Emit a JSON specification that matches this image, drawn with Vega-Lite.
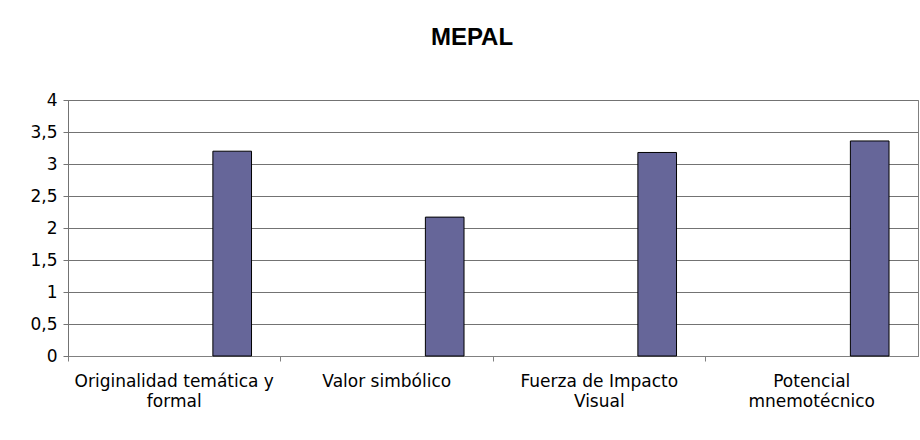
{
  "$schema": "https://vega.github.io/schema/vega-lite/v6.json",
  "width": 850,
  "height": 256,
  "autosize": {"type": "none"},
  "padding": {"left": 68, "top": 100, "right": 2, "bottom": 84},
  "background": "white",
  "title": {
    "text": "MEPAL",
    "font": "Liberation Sans",
    "fontSize": 24,
    "fontWeight": "bold",
    "color": "black",
    "anchor": "middle",
    "frame": "group",
    "baseline": "alphabetic",
    "offset": 22,
    "dx": -21
  },
  "data": {
    "values": [
      {"category": "Originalidad temática y formal", "series": "s4", "value": 3.2},
      {"category": "Valor simbólico", "series": "s4", "value": 2.17},
      {"category": "Fuerza de Impacto Visual", "series": "s4", "value": 3.18},
      {"category": "Potencial mnemotécnico", "series": "s4", "value": 3.36}
    ]
  },
  "mark": {"type": "bar", "fill": "#666699", "stroke": "black", "strokeWidth": 1},
  "encoding": {
    "x": {
      "field": "category",
      "type": "nominal",
      "sort": null,
      "scale": {"paddingInner": 0, "paddingOuter": 0},
      "axis": {
        "title": null,
        "labelAngle": 0,
        "bandPosition": 0,
        "ticks": true,
        "tickSize": 5,
        "tickColor": "#808080",
        "domainColor": "#808080",
        "labelFont": "DejaVu Sans",
        "labelFontSize": 17,
        "labelColor": "black",
        "labelLimit": 0,
        "labelPadding": 12,
        "labelLineHeight": 20,
        "labelBaseline": "top",
        "labelExpr": "datum.value == 'Originalidad temática y formal' ? ['Originalidad temática y', 'formal'] : datum.value == 'Fuerza de Impacto Visual' ? ['Fuerza de Impacto', 'Visual'] : datum.value == 'Potencial mnemotécnico' ? ['Potencial', 'mnemotécnico'] : datum.value"
      }
    },
    "xOffset": {
      "field": "series",
      "type": "nominal",
      "scale": {"domain": ["s1", "s2", "s3", "s4"], "paddingInner": 0, "paddingOuter": 0.75}
    },
    "y": {
      "field": "value",
      "type": "quantitative",
      "scale": {"domain": [0, 4], "nice": false},
      "axis": {
        "title": null,
        "values": [0, 0.5, 1, 1.5, 2, 2.5, 3, 3.5, 4],
        "grid": true,
        "gridColor": "#737373",
        "gridOpacity": 1,
        "tickSize": 5,
        "tickColor": "#737373",
        "domainColor": "#737373",
        "labelFont": "DejaVu Sans",
        "labelFontSize": 17,
        "labelColor": "black",
        "labelPadding": 6,
        "labelExpr": "replace(toString(datum.value), '.', ',')"
      }
    }
  },
  "config": {
    "view": {"stroke": "#808080", "strokeWidth": 1},
    "axis": {"domainWidth": 1, "gridWidth": 1, "tickWidth": 1}
  }
}
